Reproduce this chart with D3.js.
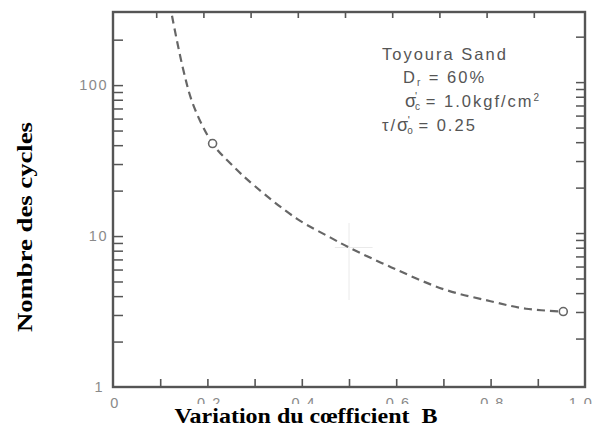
<!DOCTYPE html>
<html>
<head>
<meta charset="utf-8">
<title>Nombre des cycles vs B</title>
<script src="https://cdnjs.cloudflare.com/ajax/libs/d3/7.8.5/d3.min.js"></script>
<style>
  body { margin: 0; background: #fff; }
</style>
</head>
<body>
<script>

// data
var curveB = [0.125, 0.148, 0.17, 0.211, 0.25, 0.30, 0.39, 0.46, 0.50, 0.59, 0.70, 0.80, 0.875, 0.954]
var curveN = [288, 130, 74, 41, 30, 21.5, 13, 9.8, 8.4, 6.2, 4.45, 3.7, 3.3, 3.16]
var pointB = [0.211, 0.954]
var pointN = [41, 3.16]
var xTickValues = [0, 0.2, 0.4, 0.6, 0.8, 1.0]
var xTickLabels = ["0", "0.2", "0.4", "0.6", "0.8", "1.0"]
var yMajor = [1, 10, 100]
var yMinor = [2, 3, 4, 5, 6, 7, 8, 9, 20, 30, 40, 50, 60, 70, 80, 90, 200]

var W = 595, H = 436
var pLeft = 113, pRight = 585, pTop = 12, pBottom = 387
var grey = "#555"

var svg = d3.select("body").append("svg")
    .attr("width", W)
    .attr("height", H)
    .style("font-family", "'Liberation Sans', Arial, sans-serif")

var x = d3.scaleLinear().domain([0, 1]).range([pLeft, pRight])
var y = d3.scaleLog().domain([1, 305]).range([pBottom, pTop])

// faint crosshair left over on the scan
svg.append("line").attr("x1", x(0.5)).attr("x2", x(0.5)).attr("y1", 223).attr("y2", 300)
    .attr("stroke", "#eaeaea").attr("stroke-width", 1)
svg.append("line").attr("x1", x(0.47)).attr("x2", x(0.55)).attr("y1", y(8.4)).attr("y2", y(8.4))
    .attr("stroke", "#eaeaea").attr("stroke-width", 1)

// bottom ticks (inside)
svg.append("g")
    .attr("transform", "translate(0," + pBottom + ")")
    .call(d3.axisBottom(x).tickValues(d3.range(0.1, 0.95, 0.1)).tickSizeInner(-8).tickSizeOuter(0).tickFormat(""))
    .call(function(g){ g.select(".domain").remove() })
    .selectAll("line").attr("stroke", grey).attr("stroke-width", 1.6)

// top ticks (inside)
svg.append("g")
    .attr("transform", "translate(-4," + pTop + ")")
    .call(d3.axisTop(x).tickValues(d3.range(0.1, 0.95, 0.1)).tickSizeInner(-6).tickSizeOuter(0).tickFormat(""))
    .call(function(g){ g.select(".domain").remove() })
    .selectAll("line").attr("stroke", grey).attr("stroke-width", 1.6)

// left ticks
svg.append("g")
    .attr("transform", "translate(" + pLeft + ",0)")
    .call(d3.axisLeft(y).tickValues(yMajor.slice(1).concat(yMinor)).tickSizeInner(-10).tickSizeOuter(0).tickFormat(""))
    .call(function(g){ g.select(".domain").remove() })
    .selectAll("line").attr("stroke", grey).attr("stroke-width", 1.5)

// right ticks
svg.append("g")
    .attr("transform", "translate(" + pRight + ",-3)")
    .call(d3.axisRight(y).tickValues(yMajor.slice(1).concat(yMinor)).tickSizeInner(-9).tickSizeOuter(0).tickFormat(""))
    .call(function(g){ g.select(".domain").remove() })
    .selectAll("line").attr("stroke", grey).attr("stroke-width", 1.5)

// frame
svg.append("rect")
    .attr("x", pLeft).attr("y", pTop)
    .attr("width", pRight - pLeft).attr("height", pBottom - pTop)
    .attr("fill", "none").attr("stroke", grey).attr("stroke-width", 2.4)

// y tick labels
svg.selectAll(".ylab").data(yMajor).enter().append("text")
    .attr("class", "ylab")
    .attr("x", function(d){ return d == 1 ? 104 : 108 })
    .attr("y", function(d){ return y(d) + 5 })
    .attr("text-anchor", "end")
    .attr("font-size", 14.5)
    .style("letter-spacing", "1.5px")
    .attr("fill", "#8a8a8a")
    .text(function(d){ return d })

// x tick labels
svg.selectAll(".xlab").data(xTickValues).enter().append("text")
    .attr("class", "xlab")
    .attr("x", function(d){ return d == 1 ? x(d) - 4 : x(d) + 2 })
    .attr("y", 408)
    .attr("text-anchor", "middle")
    .attr("font-size", 14.5)
    .style("letter-spacing", "1.5px")
    .attr("fill", "#8a8a8a")
    .text(function(d, i){ return xTickLabels[i] })

// white band of the pasted caption hides the lower half of the labels
svg.append("rect").attr("x", 140).attr("y", 404).attr("width", 455).attr("height", 32).attr("fill", "#fff")

// curve
var pts = curveB.map(function(b, i){ return [b, curveN[i]] })
var line = d3.line()
    .x(function(d){ return x(d[0]) })
    .y(function(d){ return y(d[1]) })
    .curve(d3.curveCatmullRom.alpha(0.5))

svg.append("path")
    .datum(pts)
    .attr("d", line)
    .attr("fill", "none")
    .attr("stroke", "#666")
    .attr("stroke-width", 2.2)
    .attr("stroke-dasharray", "8,5")

svg.selectAll(".pt").data(pointB).enter().append("circle")
    .attr("class", "pt")
    .attr("cx", function(d){ return x(d) })
    .attr("cy", function(d, i){ return y(pointN[i]) })
    .attr("r", 4)
    .attr("fill", "#fff")
    .attr("stroke", "#666")
    .attr("stroke-width", 1.6)

// annotation
var ann = svg.append("g")
    .attr("fill", "#555")
    .attr("font-size", 16.5)
    .style("letter-spacing", "2px")

ann.append("text").attr("x", 382).attr("y", 60).text("Toyoura Sand")

var t2 = ann.append("text").attr("x", 403).attr("y", 83)
t2.append("tspan").text("D")
t2.append("tspan").attr("font-size", 10).attr("dy", 3).text("r")
t2.append("tspan").attr("dy", -3).text(" = 60%")

var t3 = ann.append("text").attr("x", 405).attr("y", 107)
t3.append("tspan").attr("font-size", 18).text("σ")
t3.append("tspan").attr("font-size", 10).attr("dy", 3).attr("dx", -3).text("c")
t3.append("tspan").attr("font-size", 11).attr("dy", -10).attr("dx", -7).text("'")
t3.append("tspan").attr("dy", 7).text(" = 1.0kgf/cm")
t3.append("tspan").attr("font-size", 10).attr("dy", -6).text("2")

var t4 = ann.append("text").attr("x", 382).attr("y", 131)
t4.append("tspan").text("τ/")
t4.append("tspan").attr("font-size", 18).text("σ")
t4.append("tspan").attr("font-size", 10).attr("dy", 3).attr("dx", -3).text("o")
t4.append("tspan").attr("font-size", 11).attr("dy", -10).attr("dx", -7).text("'")
t4.append("tspan").attr("dy", 7).text(" = 0.25")

// ghost of the original axis title, cut off by the scan
svg.append("clipPath").attr("id", "ghostclip")
    .append("rect").attr("x", 59).attr("y", 88).attr("width", 6).attr("height", 220)
svg.append("text")
    .attr("clip-path", "url(#ghostclip)")
    .attr("transform", "translate(66,198) rotate(-90)")
    .attr("text-anchor", "middle")
    .attr("font-size", 11)
    .attr("textLength", 215)
    .attr("fill", "#aaa")
    .text("Number of Cycles to Initial Liquefaction")

// axis titles
svg.append("text")
    .attr("transform", "translate(32,227) rotate(-90)")
    .attr("text-anchor", "middle")
    .style("font-family", "'Liberation Serif', 'Times New Roman', serif")
    .attr("font-weight", "bold")
    .attr("font-size", 21)
    .attr("textLength", 210)
    .attr("lengthAdjust", "spacingAndGlyphs")
    .attr("fill", "#000")
    .text("Nombre des cycles")

svg.append("text")
    .attr("x", 306)
    .attr("y", 423)
    .attr("text-anchor", "middle")
    .style("font-family", "'Liberation Serif', 'Times New Roman', serif")
    .attr("font-weight", "bold")
    .attr("font-size", 21)
    .attr("textLength", 263)
    .attr("lengthAdjust", "spacingAndGlyphs")
    .attr("fill", "#000")
    .style("white-space", "pre")
    .text("Variation du cœfficient  B")

</script>
</body>
</html>
